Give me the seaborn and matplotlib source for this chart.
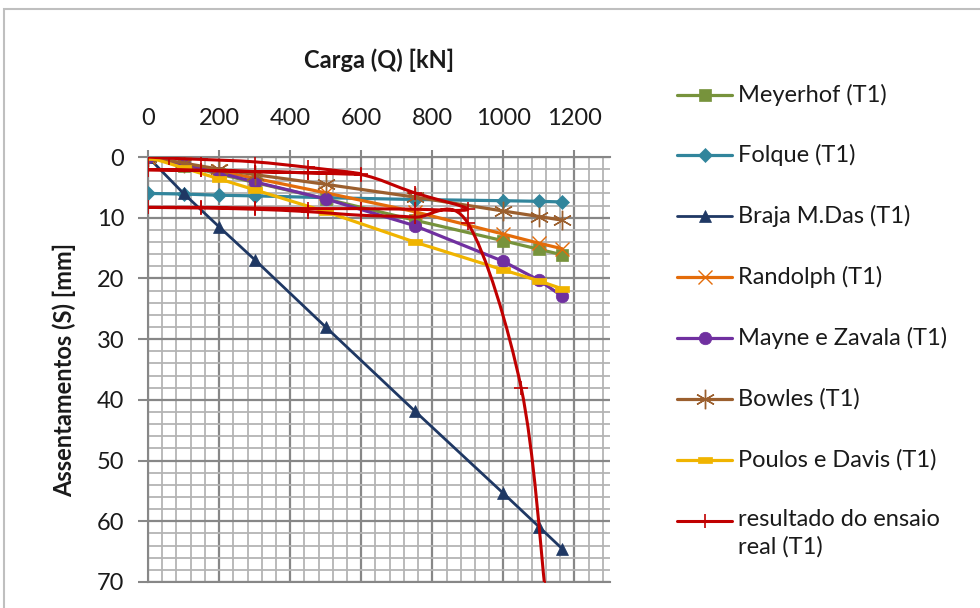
import numpy as np
import matplotlib
matplotlib.use("Agg")
import matplotlib.pyplot as plt
import seaborn as sns
from matplotlib.path import Path
from matplotlib.patches import PathPatch, Rectangle
from matplotlib.lines import Line2D
from matplotlib.ticker import MultipleLocator

# Loads (kN) used by the theoretical methods
carga = [0, 100, 200, 300, 500, 750, 1000, 1100, 1165]

# Predicted settlements (mm)
meyerhof = [0, 1.4, 2.8, 4.2, 6.9, 10.4, 13.8, 15.2, 16.1]
folque = [6.0, 6.1, 6.3, 6.4, 6.7, 7.0, 7.2, 7.3, 7.4]
braja = [0, 6.0, 11.5, 16.9, 28.0, 41.8, 55.4, 60.9, 64.5]
randolph = [0, 1.1, 2.3, 3.5, 5.9, 9.0, 12.7, 14.2, 15.1]
mayne = [0, 1.2, 2.6, 4.1, 6.9, 11.3, 17.2, 20.3, 22.9]
bowles = [0, 1.0, 2.0, 2.9, 4.5, 6.6, 8.9, 9.8, 10.4]
poulos = [0, 1.8, 3.6, 5.4, 9.0, 14.0, 18.6, 20.4, 21.7]

# Static load test with unload / reload cycles
ensaio_carga = [0, 60, 150, 300, 450, 600, 450, 300, 150, 0,
                150, 300, 450, 600, 750, 900,
                750, 600, 450, 300, 150, 0,
                150, 300, 450, 600, 750, 900, 1050, 1117]
ensaio_assent = [0, 0.2, 0.4, 0.8, 1.7, 2.8, 2.6, 2.4, 2.2, 2.1,
                 2.2, 2.4, 2.6, 2.9, 5.9, 8.6,
                 8.6, 8.5, 8.5, 8.4, 8.3, 8.3,
                 8.4, 8.6, 9.0, 9.6, 9.9, 10.9, 38.0, 71.0]

labels = ["Meyerhof (T1)", "Folque (T1)", "Braja M.Das (T1)", "Randolph (T1)",
          "Mayne e Zavala (T1)", "Bowles (T1)", "Poulos e Davis (T1)",
          "resultado do ensaio\nreal (T1)"]
x_ticks = [0, 200, 400, 600, 800, 1000, 1200]
y_ticks = [0, 10, 20, 30, 40, 50, 60, 70]

sns.set_theme(style="white")
plt.rcParams["font.family"] = ["Lato", "DejaVu Sans"]

W, H = 980, 608
fig = plt.figure(figsize=(W / 100, H / 100), dpi=100)


def fx(px):
    return px / W


def fy(py):
    return 1 - py / H


# chart frame
fig.add_artist(Rectangle((fx(4), fy(H + 10)), 1.2, fy(9) - fy(H + 10),
                         transform=fig.transFigure, fill=False,
                         edgecolor="#BFBFBF", lw=1.5))

ax = fig.add_axes([fx(148), fy(582), fx(610) - fx(148), fy(157) - fy(582)])

dash = Path([(-1, -0.38), (1, -0.38), (1, 0.38), (-1, 0.38), (-1, -0.38)],
            [Path.MOVETO, Path.LINETO, Path.LINETO, Path.LINETO, Path.CLOSEPOLY])

styles = [
    dict(color="#77933C", marker="s", ms=8.5, mew=0.5, lw=2.3),
    dict(color="#31859C", marker="D", ms=7, mew=0.5, lw=2.3),
    dict(color="#1F3864", marker="^", ms=9, mew=0.5, lw=2.0),
    dict(color="#E46C0A", marker="x", ms=10, mew=1.0, lw=2.3),
    dict(color="#7030A0", marker="o", ms=9, mew=0.5, lw=2.3),
    dict(color="#9B5F2E", marker=(6, 2, 0), ms=14, mew=1.0, lw=2.3),
    dict(color="#F0B400", marker=dash, ms=9.5, mew=0.5, lw=2.3),
]
red = dict(color="#C00000", marker="+", ms=10, mew=1.2, lw=2.2)

for vals, st in zip([meyerhof, folque, braja, randolph, mayne, bowles, poulos], styles):
    sns.lineplot(x=carga, y=vals, ax=ax, color=st["color"], lw=st["lw"],
                 marker=st["marker"], markersize=st["ms"],
                 markeredgecolor=st["color"], markerfacecolor=st["color"],
                 markeredgewidth=st["mew"], zorder=3)


def smoothed(xs, ys):
    """Cubic Bezier path through the points (Catmull-Rom tangents)."""
    p = np.column_stack([xs, ys]).astype(float)
    n = len(p)
    verts, codes = [p[0]], [Path.MOVETO]
    for i in range(n - 1):
        p0 = p[i - 1] if i > 0 else p[i]
        p1, p2 = p[i], p[i + 1]
        p3 = p[i + 2] if i + 2 < n else p[i + 1]
        verts += [p1 + (p2 - p0) / 6, p2 - (p3 - p1) / 6, p2]
        codes += [Path.CURVE4] * 3
    return Path(verts, codes)


ax.add_patch(PathPatch(smoothed(ensaio_carga, ensaio_assent), facecolor="none",
                       edgecolor=red["color"], lw=red["lw"], zorder=4,
                       transform=ax.transData))
sns.lineplot(x=ensaio_carga, y=ensaio_assent, ax=ax, sort=False, estimator=None,
             linestyle="none", marker="+", markersize=red["ms"],
             markeredgecolor=red["color"], markeredgewidth=red["mew"], zorder=5)

ax.set_xlim(0, 1300)
ax.set_ylim(70, 0)
ax.xaxis.set_major_locator(MultipleLocator(200))
ax.xaxis.set_minor_locator(MultipleLocator(40))
ax.yaxis.set_major_locator(MultipleLocator(10))
ax.yaxis.set_minor_locator(MultipleLocator(2))
ax.set_xticks(x_ticks)
ax.set_yticks(y_ticks)
ax.grid(which="major", color="#878787", lw=1.6, zorder=0)
ax.grid(which="minor", color="#B4B4B4", lw=1.3, zorder=0)
ax.set_axisbelow(True)

ax.xaxis.tick_top()
ax.tick_params(axis="x", which="major", direction="out", length=5, width=1.5,
               color="#878787", pad=15, labelsize=17, labelcolor="#1a1a1a")
ax.tick_params(axis="y", which="major", direction="out", length=7, width=1.5,
               color="#878787", pad=10, labelsize=17, labelcolor="#1a1a1a",
               left=True)
ax.tick_params(which="minor", length=0)
ax.spines["right"].set_visible(False)
for side in ["left", "top", "bottom"]:
    ax.spines[side].set_color("#878787")
    ax.spines[side].set_linewidth(1.5)

ax.set_xlabel("Carga (Q) [kN]", fontsize=17, fontweight="bold", color="#1a1a1a")
ax.xaxis.set_label_position("top")
ax.xaxis.set_label_coords(0.5, (582 - 60) / 425)
ax.xaxis.label.set_va("center")
ax.set_ylabel("Assentamentos (S) [mm]", fontsize=17, fontweight="bold", color="#1a1a1a")
ax.yaxis.set_label_coords((64 - 148) / 462, 0.5)
ax.yaxis.label.set_va("center")

# legend
all_styles = styles + [red]
for i, (lab, st) in enumerate(zip(labels, all_styles)):
    y = 94.5 + i * 60.9
    fig.add_artist(Line2D([fx(677), fx(732)], [fy(y), fy(y)], color=st["color"],
                          lw=st["lw"], transform=fig.transFigure))
    fig.add_artist(Line2D([fx(704.5)], [fy(y)], color=st["color"], lw=0,
                          marker=st["marker"], markersize=st["ms"],
                          markeredgecolor=st["color"], markerfacecolor=st["color"],
                          markeredgewidth=st["mew"], transform=fig.transFigure))
    if "\n" in lab:
        fig.text(fx(738), fy(y - 12), lab, ha="left", va="top", fontsize=17,
                 color="#1a1a1a", linespacing=1.35)
    else:
        fig.text(fx(738), fy(y), lab, ha="left", va="center", fontsize=17,
                 color="#1a1a1a")

fig.savefig("out.png", dpi=100)
